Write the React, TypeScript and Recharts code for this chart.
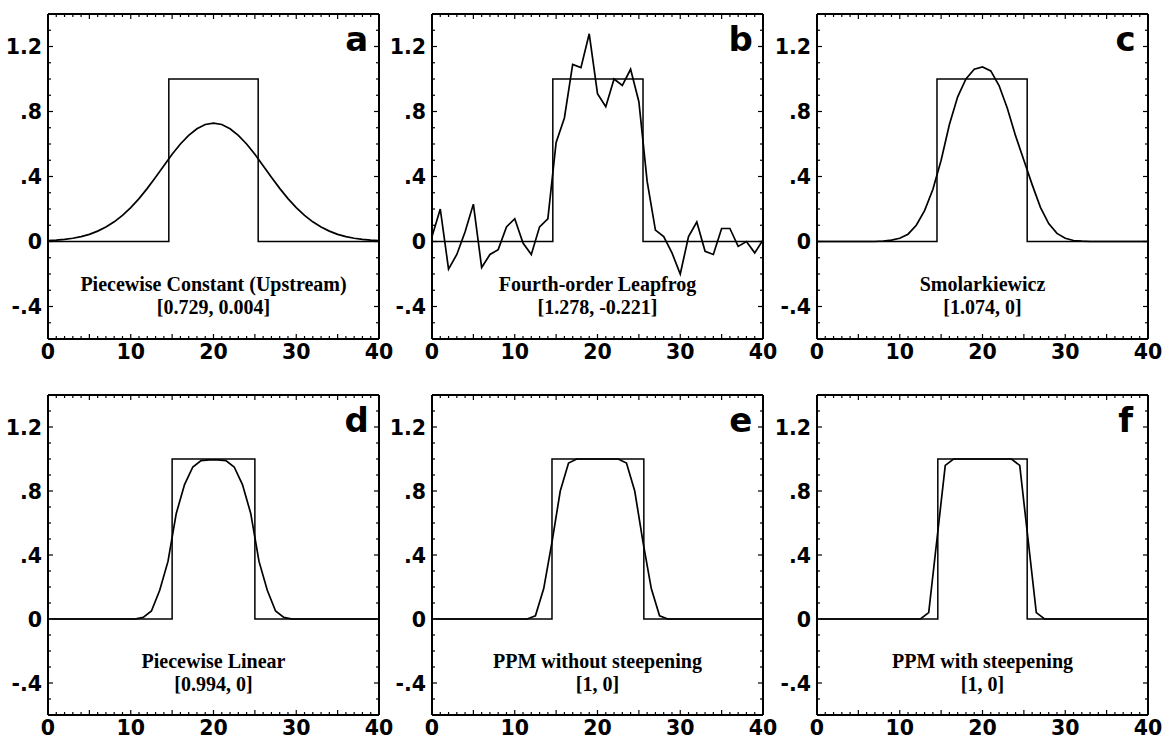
import { LineChart, Line, XAxis, YAxis, ReferenceDot } from "recharts";

// grid positions: nodes 0..40 (panels a-c) or cell centres 0.5..39.5 (panels d-f)
const gridNodes = Array.from({ length: 41 }, (_, i) => i);
const cellCenters = Array.from({ length: 40 }, (_, i) => i + 0.5);

// values
const upstreamVals = [
  0.005, 0.008, 0.013, 0.02, 0.03, 0.044, 0.064, 0.089, 0.121, 0.161, 0.209, 0.264, 0.327, 0.396, 0.466, 0.537,
  0.6, 0.653, 0.694, 0.72, 0.729, 0.72, 0.694, 0.653, 0.6, 0.537, 0.466, 0.396, 0.327, 0.264, 0.209, 0.161, 0.121,
  0.089, 0.064, 0.044, 0.03, 0.02, 0.013, 0.008, 0.005,
];
const leapfrogVals = [
  0.03, 0.2, -0.17, -0.08, 0.06, 0.23, -0.16, -0.08, -0.05, 0.09, 0.14, -0.01, -0.08, 0.09, 0.14, 0.61, 0.76, 1.09,
  1.07, 1.278, 0.91, 0.83, 1.0, 0.96, 1.06, 0.86, 0.37, 0.07, 0.03, -0.07, -0.2, 0.03, 0.12, -0.06, -0.08, 0.08,
  0.08, -0.03, 0.0, -0.07, 0.01,
];
const smolarVals = [
  0, 0, 0, 0, 0, 0, 0, 0, 0.003, 0.008, 0.02, 0.045, 0.1, 0.19, 0.32, 0.5, 0.72, 0.89, 1.0, 1.06, 1.074, 1.05,
  0.96, 0.82, 0.65, 0.5, 0.35, 0.21, 0.11, 0.05, 0.02, 0.006, 0.002, 0, 0, 0, 0, 0, 0, 0, 0,
];
const linearVals = [
  0, 0, 0, 0, 0, 0, 0, 0, 0, 0, 0, 0.01, 0.05, 0.18, 0.36, 0.66, 0.84, 0.95, 0.99, 0.994, 0.994, 0.99, 0.95, 0.84,
  0.66, 0.36, 0.18, 0.05, 0.01, 0, 0, 0, 0, 0, 0, 0, 0, 0, 0, 0,
];
const ppmVals = [
  0, 0, 0, 0, 0, 0, 0, 0, 0, 0, 0, 0, 0.02, 0.19, 0.48, 0.8, 0.975, 1, 1, 1, 1, 1, 1, 0.975, 0.8, 0.48, 0.19, 0.02,
  0, 0, 0, 0, 0, 0, 0, 0, 0, 0, 0, 0,
];
const ppmSteepVals = [
  0, 0, 0, 0, 0, 0, 0, 0, 0, 0, 0, 0, 0, 0.04, 0.5, 0.96, 1, 1, 1, 1, 1, 1, 1, 1, 0.96, 0.5, 0.04, 0, 0, 0, 0, 0, 0,
  0, 0, 0, 0, 0, 0, 0,
];

// left / right edges of the exact square pulse in each panel
const squareEdges = [
  [14.6, 25.4],
  [14.6, 25.5],
  [14.5, 25.4],
  [15, 25],
  [14.5, 25.6],
  [14.6, 25.4],
];

const letters = ["a", "b", "c", "d", "e", "f"];
const titles = [
  "Piecewise Constant (Upstream)",
  "Fourth-order Leapfrog",
  "Smolarkiewicz",
  "Piecewise Linear",
  "PPM without steepening",
  "PPM with steepening",
];
const extremes = ["[0.729, 0.004]", "[1.278, -0.221]", "[1.074, 0]", "[0.994, 0]", "[1, 0]", "[1, 0]"];
const series = [upstreamVals, leapfrogVals, smolarVals, linearVals, ppmVals, ppmSteepVals];
const grids = [gridNodes, gridNodes, gridNodes, cellCenters, cellCenters, cellCenters];

const xLabels = [0, 10, 20, 30, 40];
const yLabels = [-0.4, 0, 0.4, 0.8, 1.2];
const yTicks = [-0.6, -0.5, -0.4, -0.3, -0.2, -0.1, 0, 0.1, 0.2, 0.3, 0.4, 0.5, 0.6, 0.7, 0.8, 0.9, 1.0, 1.1, 1.2, 1.3, 1.4];
const xTicks = gridNodes;

const COL_LEFT = [48, 432, 817];
const ROW_TOP = [14, 395];
const ROW_H = [325, 320];
const PLOT_W = 331;
const AXIS_W = 50;
const AXIS_H = 30;
const PAD_TOP = 10;
const PAD_RIGHT = 22;

const tickFont = {
  fontFamily: "'DejaVu Sans', sans-serif",
  fontWeight: 700,
  fontSize: 20.5,
  fill: "#000",
};

const serifFont = {
  fontFamily: "'Liberation Serif', serif",
  fontWeight: 700,
  fontSize: 20,
  fill: "#000",
};

const isYLabel = (v: number) => yLabels.some((l) => Math.abs(l - v) < 1e-6);
const fmtY = (v: number) => (Math.abs(v) < 1e-6 ? "0" : v.toFixed(1).replace("0.", "."));

const BottomTick = ({ x, y, payload }: any) => {
  const v = payload.value;
  return (
    <g>
      <line x1={x} y1={y} x2={x} y2={y - (v % 5 === 0 ? 5 : 3)} stroke="#000" strokeWidth={1.2} />
      {xLabels.includes(v) && (
        <text x={x} y={y + 20} textAnchor="middle" {...tickFont}>
          {v}
        </text>
      )}
    </g>
  );
};

const TopTick = ({ x, y, payload }: any) => (
  <line x1={x} y1={y} x2={x} y2={y + (payload.value % 5 === 0 ? 5 : 3)} stroke="#000" strokeWidth={1.2} />
);

const LeftTick = ({ x, y, payload }: any) => {
  const v = payload.value;
  return (
    <g>
      <line x1={x} y1={y} x2={x + (isYLabel(v) ? 5 : 3)} y2={y} stroke="#000" strokeWidth={1.2} />
      {isYLabel(v) && (
        <text x={x - 6} y={y + 7.5} textAnchor="end" {...tickFont}>
          {fmtY(v)}
        </text>
      )}
    </g>
  );
};

const RightTick = ({ x, y, payload }: any) => (
  <line x1={x} y1={y} x2={x - (isYLabel(payload.value) ? 5 : 3)} y2={y} stroke="#000" strokeWidth={1.2} />
);

const frame = { stroke: "#000", strokeWidth: 2 };

const Panel = ({ idx }: { idx: number }) => {
  const col = idx % 3;
  const row = Math.floor(idx / 3);
  const plotH = ROW_H[row];
  const xs = grids[idx];
  const curve = series[idx].map((v, i) => ({ x: xs[i], y: v }));
  const [l, r] = squareEdges[idx];
  const square = [
    { x: 0, y: 0 },
    { x: l, y: 0 },
    { x: l, y: 1 },
    { x: r, y: 1 },
    { x: r, y: 0 },
    { x: 40, y: 0 },
  ];

  return (
    <div style={{ position: "absolute", left: COL_LEFT[col] - AXIS_W, top: ROW_TOP[row] - PAD_TOP }}>
      <LineChart
        width={AXIS_W + PLOT_W + 1 + PAD_RIGHT}
        height={PAD_TOP + plotH + AXIS_H}
        margin={{ top: PAD_TOP - 1, right: PAD_RIGHT, bottom: 0, left: 0 }}
      >
        <XAxis
          xAxisId="b"
          type="number"
          dataKey="x"
          domain={[0, 40]}
          ticks={xTicks}
          interval={0}
          height={AXIS_H}
          axisLine={frame}
          tickLine={false}
          tickSize={0}
          tickMargin={0}
          tick={(p: any) => <BottomTick {...p} />}
          allowDataOverflow
        />
        <XAxis
          xAxisId="t"
          orientation="top"
          type="number"
          dataKey="x"
          domain={[0, 40]}
          ticks={xTicks}
          interval={0}
          height={1}
          axisLine={frame}
          tickLine={false}
          tickSize={0}
          tickMargin={0}
          tick={(p: any) => <TopTick {...p} />}
          allowDataOverflow
        />
        <YAxis
          yAxisId="l"
          type="number"
          domain={[-0.6, 1.4]}
          ticks={yTicks}
          interval={0}
          width={AXIS_W}
          axisLine={frame}
          tickLine={false}
          tickSize={0}
          tickMargin={0}
          tick={(p: any) => <LeftTick {...p} />}
          allowDataOverflow
        />
        <YAxis
          yAxisId="r"
          orientation="right"
          type="number"
          domain={[-0.6, 1.4]}
          ticks={yTicks}
          interval={0}
          width={1}
          axisLine={frame}
          tickLine={false}
          tickSize={0}
          tickMargin={0}
          tick={(p: any) => <RightTick {...p} />}
          allowDataOverflow
        />
        <Line
          xAxisId="b"
          yAxisId="l"
          data={square}
          dataKey="y"
          type="linear"
          stroke="#000"
          strokeWidth={1.5}
          dot={false}
          isAnimationActive={false}
        />
        <Line
          xAxisId="t"
          yAxisId="r"
          data={curve}
          dataKey="y"
          type="linear"
          stroke="#000"
          strokeWidth={1.7}
          dot={false}
          isAnimationActive={false}
        />
        <ReferenceDot
          xAxisId="b"
          yAxisId="l"
          x={37.3}
          y={1.245}
          r={0}
          fill="none"
          stroke="none"
          label={{
            value: letters[idx],
            position: "center",
            fontFamily: "'DejaVu Sans', sans-serif",
            fontWeight: 700,
            fontSize: 34,
            fill: "#000",
          }}
        />
        <ReferenceDot
          xAxisId="b"
          yAxisId="l"
          x={20}
          y={-0.262}
          r={0}
          fill="none"
          stroke="none"
          label={{ value: titles[idx], position: "center", ...serifFont }}
        />
        <ReferenceDot
          xAxisId="b"
          yAxisId="l"
          x={20}
          y={-0.405}
          r={0}
          fill="none"
          stroke="none"
          label={{ value: extremes[idx], position: "center", ...serifFont }}
        />
      </LineChart>
    </div>
  );
}

export default function App() {
  return (
    <div
      style={{
        position: "absolute",
        left: 0,
        top: 0,
        width: 1168,
        height: 739,
        background: "#fff",
        overflow: "hidden",
      }}
    >
      {[0, 1, 2, 3, 4, 5].map((i) => (
        <Panel key={i} idx={i} />
      ))}
    </div>
  );
}
